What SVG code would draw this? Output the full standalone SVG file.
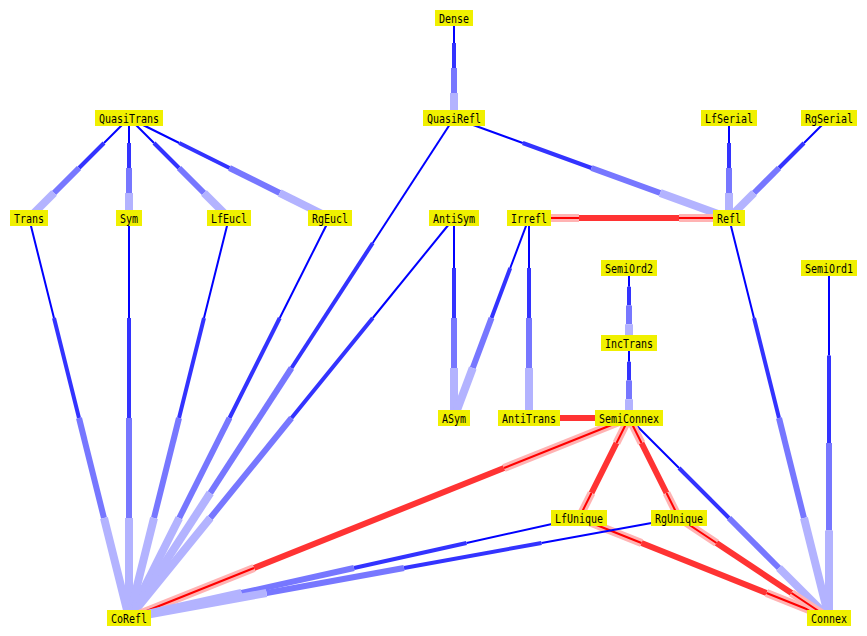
<svg xmlns="http://www.w3.org/2000/svg" width="867" height="636" viewBox="0 0 867 636">
<style>
line{stroke-linecap:butt;fill:none}
.b1{stroke:#0000ff;stroke-width:2}
.b2{stroke:#3333ff;stroke-width:4}
.b3{stroke:#7777ff;stroke-width:6}
.b4{stroke:#b3b3ff;stroke-width:8}
.rp{stroke:#ffb3b3;stroke-width:8}
.rt{stroke:#ff0000;stroke-width:2}
.rk{stroke:#ff3333;stroke-width:6}
.node rect{fill:#f0f000}
.node text{font-family:"DejaVu Sans Mono","Liberation Mono",monospace;font-size:13px;fill:#000;text-anchor:middle}
</style>
<rect width="867" height="636" fill="#fff"/>
<g id="connectors">
<g id="e-Dense-QuasiRefl"><line class="b1" x1="454" y1="18" x2="454" y2="43"/><line class="b2" x1="454" y1="43" x2="454" y2="68"/><line class="b3" x1="454" y1="68" x2="454" y2="93"/><line class="b4" x1="454" y1="93" x2="454" y2="118"/></g>
<g id="e-QuasiTrans-Trans"><line class="b1" x1="129" y1="118" x2="104" y2="143"/><line class="b2" x1="104" y1="143" x2="79" y2="168"/><line class="b3" x1="79" y1="168" x2="54" y2="193"/><line class="b4" x1="54" y1="193" x2="29" y2="218"/></g>
<g id="e-QuasiTrans-Sym"><line class="b1" x1="129" y1="118" x2="129" y2="143"/><line class="b2" x1="129" y1="143" x2="129" y2="168"/><line class="b3" x1="129" y1="168" x2="129" y2="193"/><line class="b4" x1="129" y1="193" x2="129" y2="218"/></g>
<g id="e-QuasiTrans-LfEucl"><line class="b1" x1="129" y1="118" x2="154" y2="143"/><line class="b2" x1="154" y1="143" x2="179" y2="168"/><line class="b3" x1="179" y1="168" x2="204" y2="193"/><line class="b4" x1="204" y1="193" x2="229" y2="218"/></g>
<g id="e-QuasiTrans-RgEucl"><line class="b1" x1="129" y1="118" x2="179.25" y2="143"/><line class="b2" x1="179.25" y1="143" x2="229.5" y2="168"/><line class="b3" x1="229.5" y1="168" x2="279.75" y2="193"/><line class="b4" x1="279.75" y1="193" x2="330" y2="218"/></g>
<g id="e-QuasiRefl-Refl"><line class="b1" x1="454" y1="118" x2="522.75" y2="143"/><line class="b2" x1="522.75" y1="143" x2="591.5" y2="168"/><line class="b3" x1="591.5" y1="168" x2="660.25" y2="193"/><line class="b4" x1="660.25" y1="193" x2="729" y2="218"/></g>
<g id="e-LfSerial-Refl"><line class="b1" x1="729" y1="118" x2="729" y2="143"/><line class="b2" x1="729" y1="143" x2="729" y2="168"/><line class="b3" x1="729" y1="168" x2="729" y2="193"/><line class="b4" x1="729" y1="193" x2="729" y2="218"/></g>
<g id="e-RgSerial-Refl"><line class="b1" x1="829" y1="118" x2="804" y2="143"/><line class="b2" x1="804" y1="143" x2="779" y2="168"/><line class="b3" x1="779" y1="168" x2="754" y2="193"/><line class="b4" x1="754" y1="193" x2="729" y2="218"/></g>
<g id="e-AntiSym-ASym"><line class="b1" x1="454" y1="218" x2="454" y2="268"/><line class="b2" x1="454" y1="268" x2="454" y2="318"/><line class="b3" x1="454" y1="318" x2="454" y2="368"/><line class="b4" x1="454" y1="368" x2="454" y2="418"/></g>
<g id="e-Irrefl-ASym"><line class="b1" x1="529" y1="218" x2="510.25" y2="268"/><line class="b2" x1="510.25" y1="268" x2="491.5" y2="318"/><line class="b3" x1="491.5" y1="318" x2="472.75" y2="368"/><line class="b4" x1="472.75" y1="368" x2="454" y2="418"/></g>
<g id="e-Irrefl-AntiTrans"><line class="b1" x1="529" y1="218" x2="529" y2="268"/><line class="b2" x1="529" y1="268" x2="529" y2="318"/><line class="b3" x1="529" y1="318" x2="529" y2="368"/><line class="b4" x1="529" y1="368" x2="529" y2="418"/></g>
<g id="e-Refl-Connex"><line class="b1" x1="729" y1="218" x2="754" y2="318"/><line class="b2" x1="754" y1="318" x2="779" y2="418"/><line class="b3" x1="779" y1="418" x2="804" y2="518"/><line class="b4" x1="804" y1="518" x2="829" y2="618"/></g>
<g id="e-SemiOrd2-IncTrans"><line class="b1" x1="629" y1="268" x2="629" y2="286.75"/><line class="b2" x1="629" y1="286.75" x2="629" y2="305.5"/><line class="b3" x1="629" y1="305.5" x2="629" y2="324.25"/><line class="b4" x1="629" y1="324.25" x2="629" y2="343"/></g>
<g id="e-IncTrans-SemiConnex"><line class="b1" x1="629" y1="343" x2="629" y2="361.75"/><line class="b2" x1="629" y1="361.75" x2="629" y2="380.5"/><line class="b3" x1="629" y1="380.5" x2="629" y2="399.25"/><line class="b4" x1="629" y1="399.25" x2="629" y2="418"/></g>
<g id="e-SemiOrd1-Connex"><line class="b1" x1="829" y1="268" x2="829" y2="355.5"/><line class="b2" x1="829" y1="355.5" x2="829" y2="443"/><line class="b3" x1="829" y1="443" x2="829" y2="530.5"/><line class="b4" x1="829" y1="530.5" x2="829" y2="618"/></g>
<g id="e-SemiConnex-Connex"><line class="b1" x1="629" y1="418" x2="679" y2="468"/><line class="b2" x1="679" y1="468" x2="729" y2="518"/><line class="b3" x1="729" y1="518" x2="779" y2="568"/><line class="b4" x1="779" y1="568" x2="829" y2="618"/></g>
<g id="e-Trans-CoRefl"><line class="b1" x1="29" y1="218" x2="54" y2="318"/><line class="b2" x1="54" y1="318" x2="79" y2="418"/><line class="b3" x1="79" y1="418" x2="104" y2="518"/><line class="b4" x1="104" y1="518" x2="129" y2="618"/></g>
<g id="e-Sym-CoRefl"><line class="b1" x1="129" y1="218" x2="129" y2="318"/><line class="b2" x1="129" y1="318" x2="129" y2="418"/><line class="b3" x1="129" y1="418" x2="129" y2="518"/><line class="b4" x1="129" y1="518" x2="129" y2="618"/></g>
<g id="e-LfEucl-CoRefl"><line class="b1" x1="229" y1="218" x2="204" y2="318"/><line class="b2" x1="204" y1="318" x2="179" y2="418"/><line class="b3" x1="179" y1="418" x2="154" y2="518"/><line class="b4" x1="154" y1="518" x2="129" y2="618"/></g>
<g id="e-RgEucl-CoRefl"><line class="b1" x1="330" y1="218" x2="279.75" y2="318"/><line class="b2" x1="279.75" y1="318" x2="229.5" y2="418"/><line class="b3" x1="229.5" y1="418" x2="179.25" y2="518"/><line class="b4" x1="179.25" y1="518" x2="129" y2="618"/></g>
<g id="e-QuasiRefl-CoRefl"><line class="b1" x1="454" y1="118" x2="372.75" y2="243"/><line class="b2" x1="372.75" y1="243" x2="291.5" y2="368"/><line class="b3" x1="291.5" y1="368" x2="210.25" y2="493"/><line class="b4" x1="210.25" y1="493" x2="129" y2="618"/></g>
<g id="e-AntiSym-CoRefl"><line class="b1" x1="454" y1="218" x2="372.75" y2="318"/><line class="b2" x1="372.75" y1="318" x2="291.5" y2="418"/><line class="b3" x1="291.5" y1="418" x2="210.25" y2="518"/><line class="b4" x1="210.25" y1="518" x2="129" y2="618"/></g>
<g id="e-Irrefl-Refl"><line class="rp" x1="529" y1="218" x2="579" y2="218"/><line class="rt" x1="529" y1="218" x2="579" y2="218"/><line class="rk" x1="579" y1="218" x2="679" y2="218"/><line class="rp" x1="679" y1="218" x2="729" y2="218"/><line class="rt" x1="679" y1="218" x2="729" y2="218"/></g>
<g id="e-AntiTrans-SemiConnex"><line class="rp" x1="529" y1="418" x2="554" y2="418"/><line class="rt" x1="529" y1="418" x2="554" y2="418"/><line class="rk" x1="554" y1="418" x2="604" y2="418"/><line class="rp" x1="604" y1="418" x2="629" y2="418"/><line class="rt" x1="604" y1="418" x2="629" y2="418"/></g>
<g id="e-SemiConnex-CoRefl"><line class="rp" x1="629" y1="418" x2="504" y2="468"/><line class="rt" x1="629" y1="418" x2="504" y2="468"/><line class="rk" x1="504" y1="468" x2="254" y2="568"/><line class="rp" x1="254" y1="568" x2="129" y2="618"/><line class="rt" x1="254" y1="568" x2="129" y2="618"/></g>
<g id="e-SemiConnex-LfUnique"><line class="rp" x1="629" y1="418" x2="616.5" y2="443"/><line class="rt" x1="629" y1="418" x2="616.5" y2="443"/><line class="rk" x1="616.5" y1="443" x2="591.5" y2="493"/><line class="rp" x1="591.5" y1="493" x2="579" y2="518"/><line class="rt" x1="591.5" y1="493" x2="579" y2="518"/></g>
<g id="e-SemiConnex-RgUnique"><line class="rp" x1="629" y1="418" x2="641.5" y2="443"/><line class="rt" x1="629" y1="418" x2="641.5" y2="443"/><line class="rk" x1="641.5" y1="443" x2="666.5" y2="493"/><line class="rp" x1="666.5" y1="493" x2="679" y2="518"/><line class="rt" x1="666.5" y1="493" x2="679" y2="518"/></g>
<g id="e-LfUnique-Connex"><line class="rp" x1="579" y1="518" x2="641.5" y2="543"/><line class="rt" x1="579" y1="518" x2="641.5" y2="543"/><line class="rk" x1="641.5" y1="543" x2="766.5" y2="593"/><line class="rp" x1="766.5" y1="593" x2="829" y2="618"/><line class="rt" x1="766.5" y1="593" x2="829" y2="618"/></g>
<g id="e-RgUnique-Connex"><line class="rp" x1="679" y1="518" x2="716.5" y2="543"/><line class="rt" x1="679" y1="518" x2="716.5" y2="543"/><line class="rk" x1="716.5" y1="543" x2="791.5" y2="593"/><line class="rp" x1="791.5" y1="593" x2="829" y2="618"/><line class="rt" x1="791.5" y1="593" x2="829" y2="618"/></g>
<g id="e-LfUnique-CoRefl"><line class="b1" x1="579" y1="518" x2="466.5" y2="543"/><line class="b2" x1="466.5" y1="543" x2="354" y2="568"/><line class="b3" x1="354" y1="568" x2="241.5" y2="593"/><line class="b4" x1="241.5" y1="593" x2="129" y2="618"/></g>
<g id="e-RgUnique-CoRefl"><line class="b1" x1="679" y1="518" x2="541.5" y2="543"/><line class="b2" x1="541.5" y1="543" x2="404" y2="568"/><line class="b3" x1="404" y1="568" x2="266.5" y2="593"/><line class="b4" x1="266.5" y1="593" x2="129" y2="618"/></g>
</g>
<g id="Dense" class="node"><rect x="435" y="10" width="38" height="16"/><text x="454" y="22.5" textLength="30" lengthAdjust="spacingAndGlyphs">Dense</text></g>
<g id="QuasiTrans" class="node"><rect x="95" y="110" width="68" height="16"/><text x="129" y="122.5" textLength="60" lengthAdjust="spacingAndGlyphs">QuasiTrans</text></g>
<g id="QuasiRefl" class="node"><rect x="423" y="110" width="62" height="16"/><text x="454" y="122.5" textLength="54" lengthAdjust="spacingAndGlyphs">QuasiRefl</text></g>
<g id="LfSerial" class="node"><rect x="701" y="110" width="56" height="16"/><text x="729" y="122.5" textLength="48" lengthAdjust="spacingAndGlyphs">LfSerial</text></g>
<g id="RgSerial" class="node"><rect x="801" y="110" width="56" height="16"/><text x="829" y="122.5" textLength="48" lengthAdjust="spacingAndGlyphs">RgSerial</text></g>
<g id="Trans" class="node"><rect x="10" y="210" width="38" height="16"/><text x="29" y="222.5" textLength="30" lengthAdjust="spacingAndGlyphs">Trans</text></g>
<g id="Sym" class="node"><rect x="116" y="210" width="26" height="16"/><text x="129" y="222.5" textLength="18" lengthAdjust="spacingAndGlyphs">Sym</text></g>
<g id="LfEucl" class="node"><rect x="207" y="210" width="44" height="16"/><text x="229" y="222.5" textLength="36" lengthAdjust="spacingAndGlyphs">LfEucl</text></g>
<g id="RgEucl" class="node"><rect x="308" y="210" width="44" height="16"/><text x="330" y="222.5" textLength="36" lengthAdjust="spacingAndGlyphs">RgEucl</text></g>
<g id="AntiSym" class="node"><rect x="429" y="210" width="50" height="16"/><text x="454" y="222.5" textLength="42" lengthAdjust="spacingAndGlyphs">AntiSym</text></g>
<g id="Irrefl" class="node"><rect x="507" y="210" width="44" height="16"/><text x="529" y="222.5" textLength="36" lengthAdjust="spacingAndGlyphs">Irrefl</text></g>
<g id="Refl" class="node"><rect x="713" y="210" width="32" height="16"/><text x="729" y="222.5" textLength="24" lengthAdjust="spacingAndGlyphs">Refl</text></g>
<g id="SemiOrd2" class="node"><rect x="601" y="260" width="56" height="16"/><text x="629" y="272.5" textLength="48" lengthAdjust="spacingAndGlyphs">SemiOrd2</text></g>
<g id="SemiOrd1" class="node"><rect x="801" y="260" width="56" height="16"/><text x="829" y="272.5" textLength="48" lengthAdjust="spacingAndGlyphs">SemiOrd1</text></g>
<g id="IncTrans" class="node"><rect x="601" y="335" width="56" height="16"/><text x="629" y="347.5" textLength="48" lengthAdjust="spacingAndGlyphs">IncTrans</text></g>
<g id="ASym" class="node"><rect x="438" y="410" width="32" height="16"/><text x="454" y="422.5" textLength="24" lengthAdjust="spacingAndGlyphs">ASym</text></g>
<g id="AntiTrans" class="node"><rect x="498" y="410" width="62" height="16"/><text x="529" y="422.5" textLength="54" lengthAdjust="spacingAndGlyphs">AntiTrans</text></g>
<g id="SemiConnex" class="node"><rect x="595" y="410" width="68" height="16"/><text x="629" y="422.5" textLength="60" lengthAdjust="spacingAndGlyphs">SemiConnex</text></g>
<g id="LfUnique" class="node"><rect x="551" y="510" width="56" height="16"/><text x="579" y="522.5" textLength="48" lengthAdjust="spacingAndGlyphs">LfUnique</text></g>
<g id="RgUnique" class="node"><rect x="651" y="510" width="56" height="16"/><text x="679" y="522.5" textLength="48" lengthAdjust="spacingAndGlyphs">RgUnique</text></g>
<g id="CoRefl" class="node"><rect x="107" y="610" width="44" height="16"/><text x="129" y="622.5" textLength="36" lengthAdjust="spacingAndGlyphs">CoRefl</text></g>
<g id="Connex" class="node"><rect x="807" y="610" width="44" height="16"/><text x="829" y="622.5" textLength="36" lengthAdjust="spacingAndGlyphs">Connex</text></g>
</svg>
